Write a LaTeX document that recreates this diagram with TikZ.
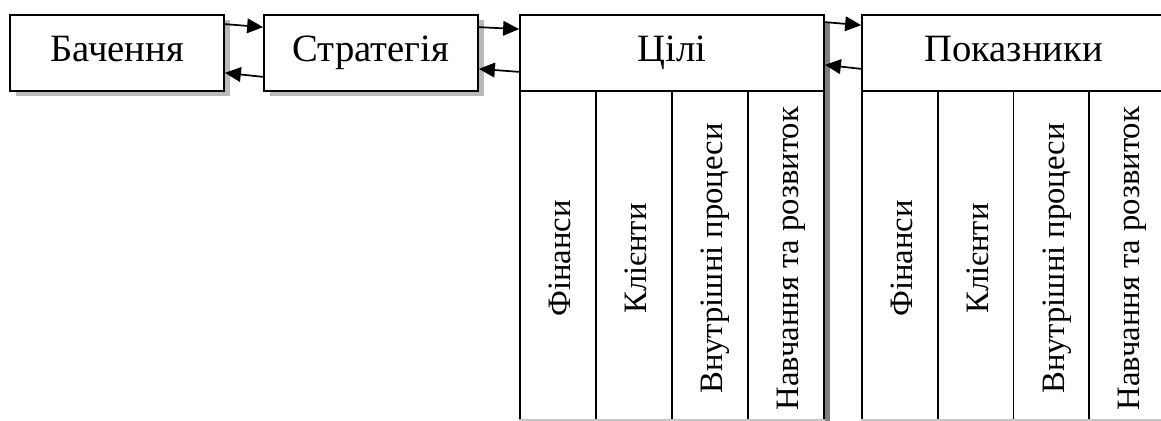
\documentclass[tikz,border=0pt]{standalone}
\usepackage{fontspec}
\setmainfont{Liberation Serif}
\newfontfamily\timesfont{Liberation Serif}
\usetikzlibrary{arrows.meta,shadows}
\begin{document}
\begin{tikzpicture}[x=0.75pt,y=-0.75pt,
  box/.style={draw=black,line width=1.3pt,fill=white,inner sep=0pt,
    text height=18pt,text depth=6pt,
    minimum width=160.5pt,minimum height=57pt,font=\timesfont\fontsize{29}{30}\selectfont},
  shadowed/.style={drop shadow={shadow xshift=4.5pt,shadow yshift=-3.75pt,
    fill=gray!55,opacity=1}},
  head/.style={box,minimum width=228pt},
  col/.style={draw=black,line width=1.3pt,fill=white,inner sep=0pt,rotate=90,
    text height=22pt,text depth=3pt,
    minimum width=251.25pt,minimum height=57pt,font=\timesfont\fontsize{24.5}{26}\selectfont},
  arr/.style={line width=1.3pt,-{Triangle[length=12pt,width=11pt]}}]
\clip (0,0) rectangle (1161,421);
\fill[white] (0,0) rectangle (1161,421);

% upper row of boxes
\node[box,shadowed] (vis) at (117,53) {Бачення};
\node[box,shadowed] (str) at (371,53) {Стратегія};
\fill[gray] (825,22) rectangle (830,421);
\node[head] (goals) at (672,53) {Цілі};
\node[head,minimum width=227.25pt] (ind) at (1013.5,53) {Показники};

% perspective columns under "Цілі"
\node[col] (g1) at (558,258.5) {Фінанси};
\node[col] (g2) at (634,258.5) {Клієнти};
\node[col] (g3) at (710,258.5) {Внутрішні процеси};
\node[col] (g4) at (786,258.5) {Навчання та розвиток};

% perspective columns under "Показники"
\node[col] (i1) at (900,258.5) {Фінанси};
\node[col] (i2) at (976,258.5) {Клієнти};
\node[col] (i3) at (1051.5,258.5) {Внутрішні процеси};
\node[col] (i4) at (1127,258.5) {Навчання та розвиток};

\draw[gray!45,line width=1pt] (g1.north east |- 0,420) -- (g4.south east |- 0,420);
\draw[gray!45,line width=1pt] (i1.north east |- 0,420) -- (1161,420);

% links between the levels
\draw[arr] ([yshift=-7.5pt]vis.north east) -- ([yshift=-9.75pt]str.north west);
\draw[arr] ([yshift=11.25pt]str.south west) -- ([yshift=14.25pt]vis.south east);
\draw[arr] ([yshift=-9.75pt]str.north east) -- ([yshift=-11.25pt]goals.north west);
\draw[arr] ([yshift=15pt]goals.south west) -- ([yshift=17.25pt]str.south east);
\draw[arr] ([yshift=-6pt]goals.north east) -- ([yshift=-8.25pt]ind.north west);
\draw[arr] ([yshift=17.25pt]ind.south west) -- ([yshift=20.25pt]goals.south east);
\end{tikzpicture}
\end{document}
